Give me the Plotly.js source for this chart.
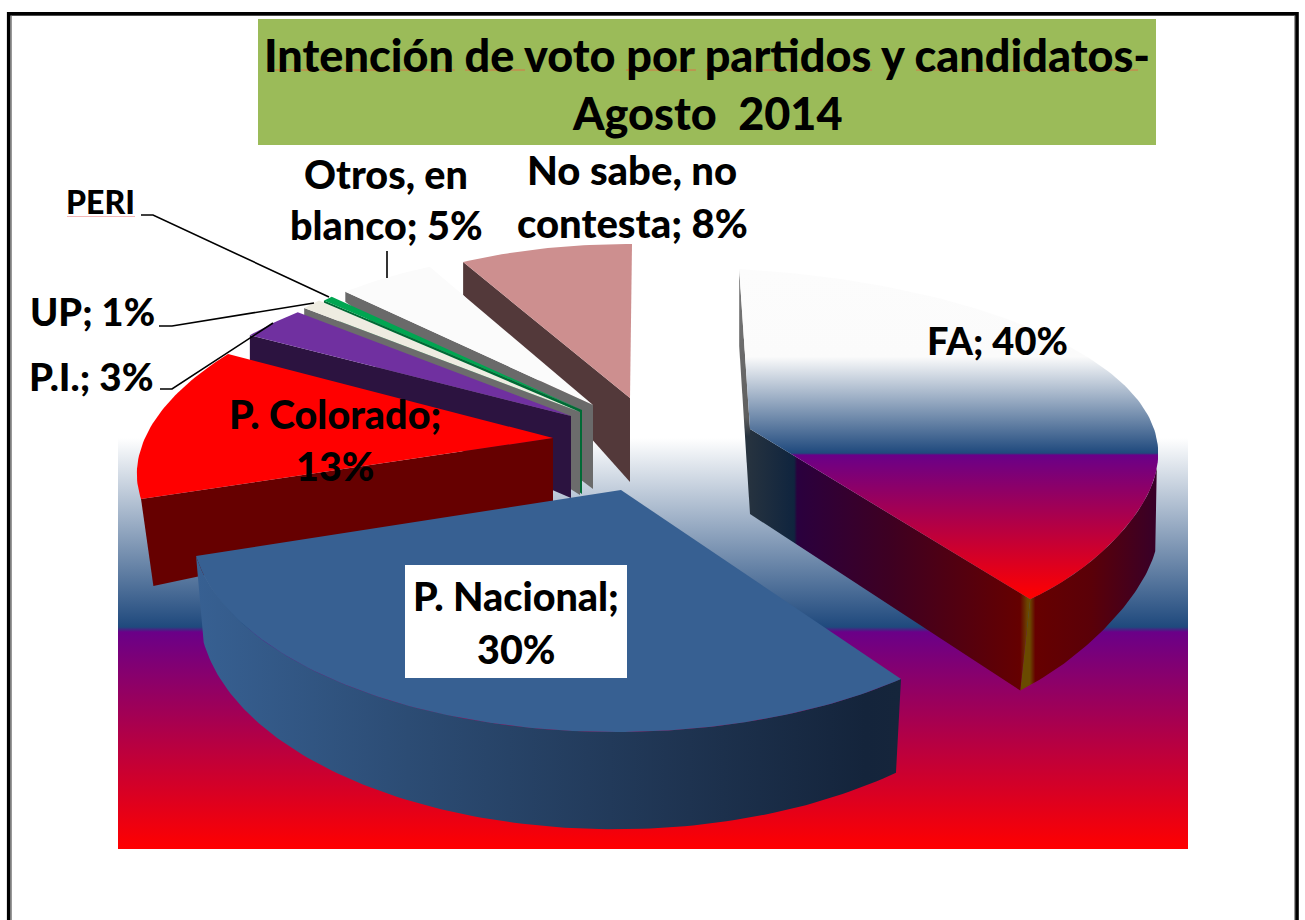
<!DOCTYPE html>
<html>
<head>
<meta charset="utf-8">
<script src="https://cdn.plot.ly/plotly-3.0.1.min.js"></script>
<style>html,body{margin:0;padding:0;background:#fff}#chart{width:1305px;height:920px}</style>
</head>
<body>
<div id="chart"></div>
<script>
// ---------- data ----------
const categories = ['FA','P. Nacional','P. Colorado','P.I.','UP','PERI','Otros, en blanco','No sabe, no contesta'];
const values = [40,30,13,3,1,0.5,4.5,8];
const titleLines = ['Intención de voto por partidos y candidatos-','Agosto  2014'];
const labelLines = [
  ['FA; 40%'],['P. Nacional;','30%'],['P. Colorado;','13%'],['P.I.; 3%'],['UP; 1%'],['PERI'],['Otros, en','blanco; 5%'],['No sabe, no','contesta; 8%']
];

// ---------- perspective of each exploded slice ----------
const view = [
 {ax:750,ay:429,A:428,B:-12,C:25.9,D:-177.4,E:.035,F:.109,dA:85,dR:85,kx:.044,kxFront:true,warp:.05,rimFrom:95},
 {ax:621,ay:490,A:422.5,B:4.2,C:.45,D:-204,E:.003,F:.157,dA:95,dR:82,kx:.018,warp:0,rimFrom:0},
 {ax:553,ay:438,A:410,B:71.3,C:-4.7,D:-183,E:0,F:0,dA:63,dR:87,kx:.03,warp:0},
 {ax:571,ay:416,A:390,B:42.8,C:8,D:-153,E:0,F:0,dA:82,dR:25,kx:0,warp:0},
 {ax:580,ay:412,A:358,B:0,C:0,D:-163,E:0,F:0,dA:83,dR:14,kx:0,warp:0},
 {ax:582,ay:410,A:354,B:0,C:0,D:-160,E:0,F:0,dA:84,dR:10,kx:0,warp:0},
 {ax:593,ay:405,A:364,B:13.7,C:5,D:-155,E:0,F:0,dA:84,dR:10,kx:0,warp:0},
 {ax:630,ay:398,A:350,B:2,C:2,D:-154,E:0,F:0,dA:84,dR:33,kx:0,warp:0}
];
const topFill = [
 {type:'vertical',start:270,stop:597,colorscale:[[0,'#fcfcfc'],[.265,'#fbfbfb'],[.56,'#1f497d'],[.566,'#6a0088'],[1,'#ff0000']]},
 '#376092','#ff0000','#7030a0','#eeece1','#00a651','#fbfbfb','#cd8f8f'
];
const edgeFill = [
 {type:'horizontal',start:747,stop:1033,colorscale:[[0,'#27333f'],[.165,'#0f243e'],[.175,'#2a003e'],[.5,'#3e0022'],[.955,'#650000'],[.98,'#6a4500'],[1,'#6f5200']]},
 null,'#660000','#2c1340','#6c6c6c','#006a35','#6a6a6a','#53393a'
];
const rimFill = [
 {type:'horizontal',start:1023,stop:1160,colorscale:[[0,'#6a4a00'],[.05,'#6a4a00'],[.09,'#660000'],[.5,'#5a0008'],[1,'#36002a']]},
 {type:'horizontal',start:197,stop:900,colorscale:[[0,'#376092'],[.3,'#2c4c74'],[.7,'#1e3350'],[.95,'#14243b'],[1,'#15253b']]},
 null,null,null,null,null,null
];
const depthOrder = [7,6,5,4,3,2,1,0];

// ---------- geometry from the values ----------
const total = values.reduce((a,b)=>a+b,0);
let acc = 0;
const spans = values.map(v=>{const s=acc/total*360; acc+=v; return [s,acc/total*360];});
function pt(i,deg,r,down){
  const g=view[i], t=deg*Math.PI/180;
  let rr=r;
  if(g.warp){
    const s=(deg-spans[i][0])/(spans[i][1]-spans[i][0]);
    rr=r*(1+g.warp*Math.sin(2*Math.PI*Math.pow(Math.max(s,0),1.3)));
  }
  const u=rr*Math.sin(t), v=rr*Math.cos(t);
  const w=1+g.E*u+g.F*v;
  let x=g.ax+(g.A*u+g.B*v)/w, y=g.ay+(g.C*u+g.D*v)/w;
  if(down){
    const d=(g.dA+(g.dR-g.dA)*r)/w;
    x-=g.kx*(x-g.ax)*(g.kxFront?Math.max(0,-Math.cos(t)):1); y+=d;
  }
  return [x,y];
}
function arc(i,from,to,down){
  const out=[], n=Math.max(2,Math.ceil(Math.abs(to-from)));
  for(let k=0;k<=n;k++) out.push(pt(i,from+(to-from)*k/n,1,down));
  return out;
}
function poly(pts,fill,name){
  const tr={type:'scatter',mode:'lines',x:pts.map(p=>p[0]),y:pts.map(p=>p[1]),fill:'toself',line:{width:0},
    showlegend:false,hoverinfo:'text',text:name,name:name};
  if(typeof fill==='string'){tr.fillcolor=fill;} else {tr.fillgradient=fill;}
  return tr;
}
const traces=[];
// backdrop
traces.push(poly([[118,438],[1188,438],[1188,849],[118,849],[118,438]],
 {type:'vertical',start:438,stop:849,colorscale:[[0,'#ffffff'],[.46,'#1f497d'],[.472,'#6a0088'],[1,'#ff0000']]},'fondo'));
depthOrder.forEach(i=>{
  const [a0,a1]=spans[i], name=categories[i]+': '+values[i]+'%';
  if(i===0){
    traces.push(poly([pt(i,a0,0,false),pt(i,a0,1,false),pt(i,a0,1,true),pt(i,a0,0,true)],
      {type:'vertical',start:270,stop:515,colorscale:[[0,'#7a7a7a'],[.6,'#5f5f5f'],[.68,'#27333f'],[1,'#27333f']]},name));
  }
  if(rimFill[i]){
    const from=a0+(view[i].rimFrom||0);
    const top=arc(i,from,a1,false), bot=arc(i,a1,from,true);
    traces.push(poly(top.concat(bot),rimFill[i],name));
  }
  const wallA = i===0 ? a1 : a0;
  if(edgeFill[i]){
    traces.push(poly([pt(i,wallA,0,false),pt(i,wallA,1,false),pt(i,wallA,1,true),pt(i,wallA,0,true)],edgeFill[i],name));
  }
  traces.push(poly([pt(i,a0,0,false)].concat(arc(i,a0,a1,false)),topFill[i],name));
});

// ---------- annotations ----------
const FONT='Lato, Carlito, sans-serif';
const labelPos=[[997,340],[516,595],[335,413],[91,376],[92,311],[100,201],[386,173],[632,170]];
const labelSize=[38,39.5,39.5,38.5,38,32,39.5,40];
const lineGap=[0,53,52,0,0,0,51,53];
const annotations=[];
titleLines.forEach((s,k)=>annotations.push({xref:'x',yref:'y',x:707,y:55+k*58,text:s,showarrow:false,
  font:{family:FONT,size:45,color:'#000',weight:900},xanchor:'center',yanchor:'middle'}));
labelLines.forEach((lines,i)=>lines.forEach((s,k)=>annotations.push({xref:'x',yref:'y',x:labelPos[i][0],y:labelPos[i][1]+k*lineGap[i],
  text:s,showarrow:false,font:{family:FONT,size:labelSize[i],color:'#000',weight:900},xanchor:'center',yanchor:'middle'})));

// ---------- frame, title box, leaders ----------
const ln=(path,color,w)=>({type:'path',xref:'x',yref:'y',path,line:{color,width:w},layer:'above'});
const shapes=[
 {type:'rect',xref:'x',yref:'y',x0:258,x1:1156,y0:19,y1:145,fillcolor:'#9bbb59',line:{width:0},layer:'above'},
 {type:'rect',xref:'x',yref:'y',x0:405,x1:627,y0:565,y1:678,fillcolor:'#ffffff',line:{width:0},layer:'above'},
 ln('M11.5,920 L11.5,15.5 L1294.5,15.5 L1294.5,920','#999999',1),
 ln('M8.7,920 L8.7,13.7 L1297,13.7 L1297,920','#000000',3.6),
 ln('M141,215 L153,215 L329,297','#000000',1.6),
 ln('M159,326 L172,326 L314,303','#000000',1.6),
 ln('M160,389 L172,389 L273,323','#000000',1.6),
 ln('M387,251 L387,278','#000000',1.6),
 ln('M67,216.5 L135,216.5','#f4b6b6',1),
 ln('M267,70 L455,70 M465,70 L525,70 M626,70 L696,70 M706,70 L872,70 M916,70 L1138,70','#d9734a',1)
];

Plotly.newPlot('chart',traces,{
  width:1305,height:920,margin:{l:0,r:0,t:0,b:0},showlegend:false,
  paper_bgcolor:'#ffffff',plot_bgcolor:'#ffffff',
  xaxis:{range:[0,1305],visible:false,fixedrange:true},
  yaxis:{range:[920,0],visible:false,fixedrange:true},
  annotations,shapes
},{displayModeBar:false});
</script>
</body>
</html>
